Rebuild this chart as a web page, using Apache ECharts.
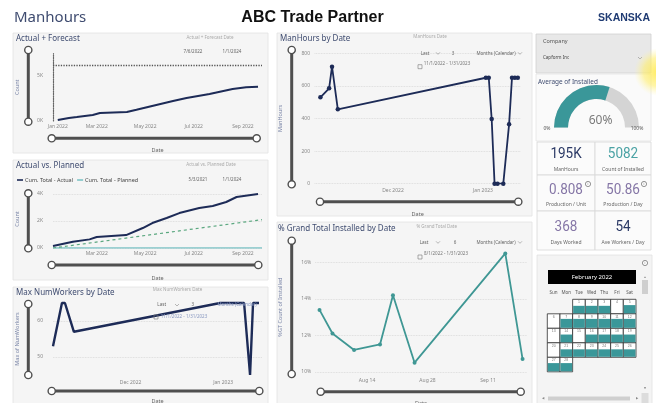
<!DOCTYPE html>
<html>
<head>
<meta charset="utf-8">
<script src="https://cdn.jsdelivr.net/npm/echarts@6/dist/echarts.min.js"></script>
<style>
  html, body { margin: 0; padding: 0; background: #fff; }
  #main { width: 656px; height: 403px; }
</style>
</head>
<body>
<div id="main"></div>
<script>
// ---- data ----
const forecastDates = ['2022-01-11', '2022-01-25', '2022-02-04', '2022-02-24', '2022-03-05', '2022-04-08', '2022-04-20',
  '2022-05-15', '2022-06-05', '2022-06-22', '2022-07-21', '2022-08-03', '2022-08-19', '2022-09-05', '2022-09-20']
const forecastCount = [100, 330, 440, 670, 890, 1000, 1250, 1780, 2220, 2560, 3000, 3260, 3560, 3740, 3800]
const forecastTarget = 6200

const actualDates = ['2022-01-05', '2022-01-30', '2022-02-20', '2022-03-01', '2022-04-07', '2022-04-28', '2022-05-10',
  '2022-05-28', '2022-06-13', '2022-07-08', '2022-07-25', '2022-08-11', '2022-08-24', '2022-09-20']
const actualCum = [150, 470, 640, 810, 960, 1480, 1850, 2220, 2590, 2960, 3110, 3410, 3780, 4000]
const plannedDates = ['2022-01-05', '2022-09-25']
const plannedCum = [0, 0]
const trendCum = [0, 2100]

const workerDates = ['2022-11-05', '2022-11-08', '2022-11-09', '2022-11-12', '2022-12-31', '2023-01-03', '2023-01-06',
  '2023-01-08', '2023-01-10', '2023-01-11', '2023-01-13']
const maxWorkers = [53, 65, 65, 57, 65, 65, 65, 65, 45, 65, 65]

const manHourDates = ['2022-11-06', '2022-11-09', '2022-11-10', '2022-11-12', '2023-01-02', '2023-01-03', '2023-01-04',
  '2023-01-05', '2023-01-06', '2023-01-08', '2023-01-10', '2023-01-11', '2023-01-12', '2023-01-13']
const manHours = [530, 585, 718, 456, 650, 650, 397, 0, 0, 0, 364, 650, 650, 650]

const gtDates = ['2022-08-03', '2022-08-06', '2022-08-11', '2022-08-17', '2022-08-20', '2022-08-25', '2022-09-15', '2022-09-19']
const gtPercent = [13.4, 12.1, 11.2, 11.5, 14.2, 10.5, 16.5, 10.7]

const p1TickDates = ['2022-01-11', '2022-03-01', '2022-05-01', '2022-07-01', '2022-09-01']
const p2TickDates = ['2022-03-01', '2022-05-01', '2022-07-01', '2022-09-01']
const p34TickDates = ['2022-12-01', '2023-01-01']
const p5TickDates = ['2022-08-14', '2022-08-28', '2022-09-11']
const p1YTicks = [0, 5000]
const p2YTicks = [0, 2000, 4000]
const p3YTicks = [50, 60]
const p5YTicks = [10, 12, 14, 16]

const gaugeValue = 60
const cardValues = ['195K', '5082', '0.808', '50.86', '368', '54']
const cardLabels = ['ManHours', 'Count of Installed', 'Production / Unit', 'Production / Day', 'Days Worked', 'Ave Workers / Day']

// share of each February 2022 day cell filled (0 = no work)
const febFill = [0.55, 0.55, 0.55, 0, 0.6, 0, 0.65, 0.65, 0.65, 0.65, 0.65, 0.65, 0, 0.57, 0, 0.57, 0.57, 0.57, 0.57,
  0, 0.55, 0.55, 0.55, 0.55, 0.55, 0.55, 0.6, 0.6]

// ---- helpers ----
const FONT = '"Noto Sans", "Open Sans", sans-serif'
const MON = ['Jan', 'Feb', 'Mar', 'Apr', 'May', 'Jun', 'Jul', 'Aug', 'Sep', 'Oct', 'Nov', 'Dec']
const d = s => { const p = s.split('-').map(Number); return Date.UTC(p[0], p[1] - 1, p[2]) }
const monYear = v => { const t = new Date(v); return MON[t.getUTCMonth()] + ' ' + t.getUTCFullYear() }
const monDay = v => { const t = new Date(v); return MON[t.getUTCMonth()] + ' ' + t.getUTCDate() }
const zip = (xs, ys) => xs.map((x, i) => [d(x), ys[i]])

const NAVY = '#1d2b57'
const TEAL = '#3f9794'

const gfx = []
const box = (x, y, w, h, fill, stroke) => gfx.push({
  type: 'rect', z: -5, silent: true, shape: { x, y, width: w, height: h },
  style: { fill, stroke: stroke || null, lineWidth: stroke ? 0.8 : 0 }
})
const txt = (x, y, t, o, extra) => gfx.push(Object.assign({
  type: 'text', z: 10, silent: true, x, y,
  style: Object.assign({ text: t, fontSize: 4.5, fontFamily: FONT, fill: '#aaa', align: 'left', verticalAlign: 'middle' }, o)
}, extra || {}))
const slider = (x1, y1, x2, y2) => {
  gfx.push({ type: 'line', z: 3, silent: true, shape: { x1, y1, x2, y2 }, style: { stroke: '#4f4f4f', lineWidth: 3 } })
  ;[[x1, y1], [x2, y2]].forEach(([cx, cy]) => gfx.push({
    type: 'circle', z: 4, silent: true, shape: { cx, cy, r: 3.6 },
    style: { fill: '#fff', stroke: '#4f4f4f', lineWidth: 1.4 }
  }))
}
const chevron = (x, y) => gfx.push({
  type: 'polyline', z: 10, silent: true, shape: { points: [[x - 2, y - 1], [x, y + 1], [x + 2, y - 1]] },
  style: { stroke: '#888', lineWidth: 0.6, fill: null }
})
const calIcon = (x, y) => gfx.push({
  type: 'rect', z: 10, silent: true, shape: { x: x - 2, y: y - 2, width: 4, height: 4 },
  style: { fill: null, stroke: '#777', lineWidth: 0.6 }
})
const info = (x, y) => {
  gfx.push({ type: 'circle', z: 10, silent: true, shape: { cx: x, cy: y, r: 2.6 }, style: { fill: '#fff', stroke: '#666', lineWidth: 0.7 } })
  txt(x, y + 0.2, 'i', { fontSize: 3.5, fill: '#666', align: 'center' })
}

// ---- page chrome ----
txt(14, 18, 'Manhours', { fontSize: 15, fill: '#3f4c70' })
txt(312.5, 17.5, 'ABC Trade Partner', { fontSize: 16, fontWeight: 'bold', fill: '#111', align: 'center', fontFamily: '"Liberation Sans", Arial, sans-serif' })
txt(624, 18.5, 'SKANSKA', { fontSize: 10.5, fontWeight: 'bold', fill: '#1f3b73', align: 'center', fontFamily: '"Liberation Sans", Arial, sans-serif' })

// panels
box(13, 33, 255, 120, '#f5f5f5', '#e2e2e2')
box(13, 160, 255, 120, '#f5f5f5', '#e2e2e2')
box(13, 287, 255, 125, '#f5f5f5', '#e2e2e2')
box(277, 33, 255, 183, '#f5f5f5', '#e2e2e2')
box(277, 222, 255, 190, '#f5f5f5', '#e2e2e2')

const TITLE = { fontSize: 8, fill: '#3f4c70' }
txt(16, 39, 'Actual + Forecast', TITLE)
txt(16, 166, 'Actual vs. Planned', TITLE)
txt(16, 292.5, 'Max NumWorkers by Date', TITLE)
txt(280, 38.5, 'ManHours by Date', TITLE)
txt(278, 229, '% Grand Total Installed by Date', TITLE)

// slicer captions
txt(210, 38, 'Actual + Forecast Date', { align: 'center' })
txt(193, 52, '7/6/2022', { align: 'center', fill: '#666' })
txt(232, 52, '1/1/2024', { align: 'center', fill: '#666' })
txt(211, 165, 'Actual vs. Planned Date', { align: 'center' })
txt(198, 180, '5/3/2021', { align: 'center', fill: '#666' })
txt(232, 180, '1/1/2024', { align: 'center', fill: '#666' })

txt(177.5, 290, 'Max NumWorkers Date', { align: 'center' })
txt(161.7, 305, 'Last', { align: 'center', fill: '#666' })
chevron(177, 305)
txt(192.7, 305, '3', { align: 'center', fill: '#666' })
txt(237, 305, 'Months (Calendar)', { align: 'center', fill: '#8797c0' })
calIcon(156, 317)
txt(184, 317, '11/1/2022 - 1/31/2023', { align: 'center', fill: '#8797c0' })

txt(430, 36.7, 'ManHours Date', { align: 'center' })
txt(425, 53.3, 'Last', { align: 'center', fill: '#666' })
chevron(438, 53.3)
txt(453, 53.3, '3', { align: 'center', fill: '#666' })
txt(496, 53.3, 'Months (Calendar)', { align: 'center', fill: '#666' })
chevron(520, 53.3)
calIcon(420, 66.7)
txt(447, 64, '11/1/2022 - 1/31/2023', { align: 'center', fill: '#777' })

txt(436.7, 226.7, '% Grand Total Date', { align: 'center' })
txt(424, 242.3, 'Last', { align: 'center', fill: '#666' })
chevron(438, 242.3)
txt(455, 242.3, '6', { align: 'center', fill: '#666' })
txt(496, 242.3, 'Months (Calendar)', { align: 'center', fill: '#666' })
chevron(520, 242.3)
calIcon(420, 257)
txt(446, 254, '8/1/2022 - 1/31/2023', { align: 'center', fill: '#777' })

// range sliders
slider(28.3, 50, 28.3, 121.7); slider(51.7, 138.3, 256.7, 138.3)
slider(28.3, 193.3, 28.3, 248.3); slider(51.7, 265, 258.3, 265)
slider(28.3, 304, 28.3, 375); slider(51.7, 391, 259.3, 391)
slider(291.7, 50, 291.7, 184.3); slider(320, 201.7, 518.3, 201.7)
slider(291.7, 240.7, 291.7, 374); slider(320.7, 391.7, 520.7, 391.7)

// right column
box(536, 34, 115, 39, '#e8e8e8', '#d0d0d0')
txt(543, 41, 'Company', { fontSize: 5.5, fill: '#555' })
txt(543, 58, 'Capform Inc', { fontSize: 4.5, fill: '#444' })
chevron(640, 58)
box(536, 74, 115, 67, '#fafafa', '#e4e4e4')
txt(538, 82, 'Average of Installed', { fontSize: 6.4, fill: '#3f4c70' })
txt(547, 129, '0%', { fontSize: 5, fill: '#555', align: 'center' })
txt(637, 129, '100%', { fontSize: 5, fill: '#555', align: 'center' })

const cardCols = [[537, 58], [595, 56]]
const cardRows = [[142, 33, 154, 170], [175, 36, 190, 205], [211, 39, 227.5, 243]]
const cardColors = ['#2c3a66', '#4aa2a4', '#8576a6', '#8576a6', '#8576a6', '#2c3a66']
cardRows.forEach((r, ri) => cardCols.forEach((c, ci) => {
  const k = ri * 2 + ci
  box(c[0], r[0], c[1], r[1], '#fbfbfb', '#d8d8d8')
  txt(c[0] + c[1] / 2, r[2], cardValues[k], { fontSize: 15, fill: cardColors[k], align: 'center', fontFamily: 'Roboto, sans-serif' }, { scaleX: 0.9 })
  txt(c[0] + c[1] / 2, r[3], cardLabels[k], { fontSize: 5, fill: '#666', align: 'center' })
}))
info(588, 184); info(644, 184)

box(537, 255, 115, 150, '#f4f4f4', '#e2e2e2')
info(645, 263)
gfx.push({ type: 'rect', z: 5, silent: true, shape: { x: 548, y: 270, width: 88, height: 14 }, style: { fill: '#000' } })
txt(592, 277, 'February 2022', { fontSize: 6, fill: '#fff', align: 'center' })
// scrollbars
txt(645, 276.7, '▲', { fontSize: 3, fill: '#888', align: 'center' })
gfx.push({ type: 'rect', z: 5, silent: true, shape: { x: 642, y: 280, width: 6, height: 14 }, style: { fill: '#cfcfcf' } })
txt(645, 388, '▼', { fontSize: 3, fill: '#555', align: 'center' })
txt(543, 398.5, '◀', { fontSize: 3, fill: '#888', align: 'center' })
gfx.push({ type: 'rect', z: 5, silent: true, shape: { x: 548, y: 396.5, width: 82, height: 4 }, style: { fill: '#cfcfcf' } })
txt(636.5, 398.5, '▶', { fontSize: 3, fill: '#888', align: 'center' })
gfx.push({ type: 'rect', z: 5, silent: true, shape: { x: 641.5, y: 393, width: 7, height: 10 }, style: { fill: '#dcdcdc' } })

// cursor highlight
gfx.push({
  type: 'circle', z: 50, silent: true, shape: { cx: 658, cy: 72, r: 24 },
  style: {
    fill: {
      type: 'radial', x: 0.5, y: 0.5, r: 0.5,
      colorStops: [{ offset: 0, color: 'rgba(255,232,70,0.85)' }, { offset: 0.6, color: 'rgba(255,238,110,0.6)' }, { offset: 1, color: 'rgba(255,245,170,0)' }]
    }
  }
})

// ---- axes ----
const LABEL = { fontSize: 5, color: '#888', fontFamily: FONT, hideOverlap: false }
const DOTTED = { show: true, lineStyle: { type: 'dotted', color: '#d6d6d6', width: 0.8 } }

const xAxisOf = (gi, min, max, ticks, fmt, margin, gap) => ({
  type: 'value', gridIndex: gi, min: d(min), max: d(max),
  axisLine: { show: false }, axisTick: { show: false, customValues: ticks.map(d) }, splitLine: { show: false },
  axisLabel: Object.assign({ customValues: ticks.map(d), formatter: fmt, margin }, LABEL),
  name: 'Date', nameLocation: 'middle', nameGap: gap,
  nameTextStyle: { fontSize: 5.5, color: '#666', fontFamily: FONT }
})
const yAxisOf = (gi, min, max, ticks, fmt, margin, name, gap, split) => ({
  type: 'value', gridIndex: gi, min, max,
  axisLine: { show: false }, axisTick: { show: false, customValues: ticks }, splitLine: split ? DOTTED : { show: false },
  axisLabel: Object.assign({ customValues: ticks, formatter: fmt, margin }, LABEL),
  name, nameLocation: 'middle', nameGap: gap,
  nameTextStyle: { fontSize: 5.5, color: '#7b86a8', fontFamily: FONT }
})
const kFmt = v => (v / 1000) + 'K'

const yAxes = [
  yAxisOf(0, 0, 7500, p1YTicks, kFmt, 10, 'Count', 33, false),
  yAxisOf(1, 0, 4300, p2YTicks, kFmt, 10, 'Count', 33, true),
  yAxisOf(2, 44, 66, p3YTicks, v => String(v), 10, 'Max of NumWorkers', 33, true),
  yAxisOf(3, 0, 800, [0, 200, 400, 600, 800], v => String(v), 4.6, 'ManHours', 31, true),
  yAxisOf(4, 9.9, 17.2, p5YTicks, v => v + '%', 4, '%GT Count of Installed', 32, true)
]
yAxes[0].axisLine = { show: true, onZero: false, lineStyle: { type: 'dotted', color: '#666', width: 1.2 } }

const grids = [
  { left: 53, top: 53.5, width: 209, height: 67.5 },
  { left: 53, top: 190, width: 209, height: 58 },
  { left: 53, top: 299.4, width: 209, height: 79.2 },
  { left: 314.6, top: 53.3, width: 206.1, height: 130.4 },
  { left: 315.2, top: 240.7, width: 211.7, height: 132.9 }
].map(g => Object.assign(g, { containLabel: false, outerBoundsMode: 'none' }))

const chart = echarts.init(document.getElementById('main'), null, { renderer: 'canvas' })

chart.setOption({
  animation: false,
  backgroundColor: '#ffffff',
  textStyle: { fontFamily: FONT },
  graphic: { elements: gfx },
  grid: grids,
  xAxis: [
    xAxisOf(0, '2022-01-05', '2022-09-25', p1TickDates, monYear, 3, 26),
    xAxisOf(1, '2022-01-05', '2022-09-25', p2TickDates, monYear, 3.5, 27),
    xAxisOf(2, '2022-11-05', '2023-01-14', p34TickDates, monYear, 1.5, 20),
    xAxisOf(3, '2022-11-04', '2023-01-14', p34TickDates, monYear, 4, 28),
    xAxisOf(4, '2022-08-02', '2022-09-20', p5TickDates, monDay, 4, 27)
  ],
  yAxis: yAxes,
  legend: {
    left: 17, top: 177, padding: 0, itemWidth: 6, itemHeight: 1.6, itemGap: 4, icon: 'rect',
    data: ['Cum. Total - Actual', 'Cum. Total - Planned'],
    textStyle: { fontSize: 5.5, color: '#444', fontFamily: FONT, padding: [0, 0, 0, -3] }
  },
  calendar: {
    orient: 'vertical', range: '2022-02', left: 547.3, top: 299.3, cellSize: [12.67, 14.5],
    dayLabel: {
      firstDay: 0, nameMap: ['Sun', 'Mon', 'Tue', 'Wed', 'Thu', 'Fri', 'Sat'], position: 'start',
      margin: 4, fontSize: 4.5, color: '#555', fontFamily: FONT
    },
    monthLabel: { show: false }, yearLabel: { show: false }, splitLine: { show: false },
    itemStyle: { color: '#fff', borderColor: '#2d2d2d', borderWidth: 0.8 }
  },
  series: [
    {
      name: 'Actual + Forecast', type: 'line', xAxisIndex: 0, yAxisIndex: 0, data: zip(forecastDates, forecastCount),
      showSymbol: false, lineStyle: { color: NAVY, width: 2 }, itemStyle: { color: NAVY },
      markLine: {
        symbol: 'none', silent: true, label: { show: false },
        lineStyle: { type: 'dotted', color: '#555', width: 1.3 }, data: [{ yAxis: forecastTarget }]
      }
    },
    {
      name: 'Cum. Total - Planned', type: 'line', xAxisIndex: 1, yAxisIndex: 1, data: zip(plannedDates, plannedCum),
      showSymbol: false, lineStyle: { color: '#7ec3c6', width: 1.6 }, itemStyle: { color: '#7ec3c6' }
    },
    {
      name: 'Trend', type: 'line', xAxisIndex: 1, yAxisIndex: 1, data: zip(plannedDates, trendCum),
      showSymbol: false, lineStyle: { color: '#5aa77f', width: 1.2, type: [3, 3] }
    },
    {
      name: 'Cum. Total - Actual', type: 'line', xAxisIndex: 1, yAxisIndex: 1, data: zip(actualDates, actualCum),
      showSymbol: false, lineStyle: { color: NAVY, width: 2 }, itemStyle: { color: NAVY }
    },
    {
      name: 'Max NumWorkers', type: 'line', xAxisIndex: 2, yAxisIndex: 2, data: zip(workerDates, maxWorkers),
      showSymbol: false, lineStyle: { color: NAVY, width: 2.4 }, itemStyle: { color: NAVY }
    },
    {
      name: 'ManHours', type: 'line', xAxisIndex: 3, yAxisIndex: 3, data: zip(manHourDates, manHours),
      symbol: 'circle', symbolSize: 4.5, showSymbol: true,
      lineStyle: { color: NAVY, width: 1.8 }, itemStyle: { color: NAVY }
    },
    {
      name: '% GT Installed', type: 'line', xAxisIndex: 4, yAxisIndex: 4, data: zip(gtDates, gtPercent),
      symbol: 'circle', symbolSize: 4, showSymbol: true,
      lineStyle: { color: TEAL, width: 1.8 }, itemStyle: { color: TEAL }
    },
    {
      type: 'gauge', center: [596.5, 127.5], radius: 42.5, startAngle: 180, endAngle: 0, min: 0, max: 100,
      progress: { show: true, width: 14, itemStyle: { color: '#3a9799' } },
      axisLine: { lineStyle: { width: 14, color: [[1, '#d4d4d4']] } },
      pointer: { show: false }, axisTick: { show: false }, splitLine: { show: false }, axisLabel: { show: false },
      anchor: { show: false }, title: { show: false },
      detail: { offsetCenter: [4, -7], formatter: '{value}%', fontSize: 12, fontWeight: 'normal', color: '#7a7a7a', fontFamily: FONT },
      data: [{ value: gaugeValue }]
    },
    {
      type: 'custom', coordinateSystem: 'calendar', calendarIndex: 0,
      data: febFill.map((f, i) => ['2022-02-' + String(i + 1).padStart(2, '0'), f, i + 1]),
      renderItem(params, api) {
        const p = api.coord(api.value(0))
        const cw = params.coordSys.cellWidth
        const ch = params.coordSys.cellHeight
        const f = api.value(1)
        const x0 = p[0] - cw / 2
        const y0 = p[1] - ch / 2
        const children = []
        if (f > 0) {
          children.push({ type: 'rect', shape: { x: x0 + 0.5, y: y0 + ch - f * ch, width: cw - 1, height: f * ch - 0.5 }, style: { fill: '#3a9799' } })
        }
        children.push({ type: 'text', style: { x: p[0], y: y0 + 2.8, text: String(api.value(2)), fontSize: 3.5, fill: '#777', align: 'center', verticalAlign: 'middle' } })
        return { type: 'group', children }
      }
    }
  ]
})

window.addEventListener('resize', () => chart.resize())
</script>
</body>
</html>
